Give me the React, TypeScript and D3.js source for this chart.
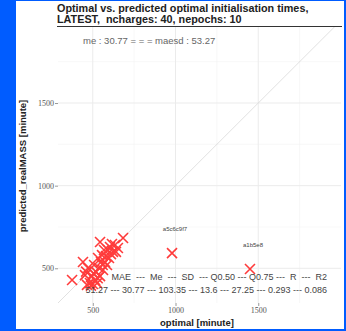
import React, { useEffect, useRef } from "react";
import * as d3 from "d3";

// optimal vs predicted init times (minutes)
const optimal = [375, 441, 453, 465, 471, 483, 489, 495, 501, 508, 514, 520, 526, 532, 538, 544, 544, 550, 556, 562,
  568, 574, 580, 586, 592, 598, 604, 610, 616, 622, 634, 640, 652, 683, 460, 505, 530, 560, 979, 1450];
const predicted = [429, 538, 459, 400, 502, 411, 395, 453, 405, 520, 429, 478, 410, 562, 502, 659, 453, 538, 580, 490,
  611, 538, 574, 520, 611, 562, 629, 586, 647, 599, 641, 599, 623, 683, 480, 470, 440, 520, 592, 496];
const outlierLabels = [
  { x: 979, y: 592, label: "a5c6c9f7" },
  { x: 1450, y: 496, label: "a1b5e8" },
];

const xTicks = [500, 1000, 1500];
const yTicks = [500, 1000, 1500];
const minorTicks = [750, 1250, 1750];

const titleLines = ["Optimal vs. predicted optimal initialisation times,", "LATEST,  ncharges: 40, nepochs: 10"];
const topNote = "me : 30.77 = = = maesd : 53.27";
const statNames = "MAE  ---  Me  ---  SD  --- Q0.50 --- Q0.75 ---  R  ---  R2";
const statValues = "51.27 --- 30.77 --- 103.35 --- 13.6 --- 27.25 --- 0.293 --- 0.086";

const App = () => {
  const ref = useRef<SVGSVGElement>(null);

  useEffect(() => {
    const width = 346;
    const height = 331;
    const left = 58, right = 341, top = 27, bottom = 303;

    const svg = d3.select(ref.current);
    svg.selectAll("*").remove();
    svg.attr("width", width).attr("height", height);

    // blue frame + white page
    svg.append("rect").attr("width", width).attr("height", height).attr("fill", "#005cff");
    svg.append("rect").attr("x", 16).attr("y", 1).attr("width", 328).attr("height", 328).attr("fill", "#fff");

    const x = d3.scaleLinear().domain([290, 2000]).range([left, right]);
    const y = d3.scaleLinear().domain([290, 1960]).range([bottom, top]);

    // grid
    const grid = svg.append("g");
    minorTicks.forEach((t) => {
      grid.append("line").attr("x1", x(t)).attr("x2", x(t)).attr("y1", top).attr("y2", bottom)
        .attr("stroke", "#f3f3f3").attr("stroke-width", 0.6);
      grid.append("line").attr("x1", left).attr("x2", right).attr("y1", y(t)).attr("y2", y(t))
        .attr("stroke", "#f3f3f3").attr("stroke-width", 0.6);
    });
    xTicks.forEach((t) => {
      grid.append("line").attr("x1", x(t)).attr("x2", x(t)).attr("y1", top).attr("y2", bottom)
        .attr("stroke", "#ebebeb").attr("stroke-width", 1);
    });
    yTicks.forEach((t) => {
      grid.append("line").attr("x1", left).attr("x2", right).attr("y1", y(t)).attr("y2", y(t))
        .attr("stroke", "#ebebeb").attr("stroke-width", 1);
    });

    // y = x reference line
    svg.append("clipPath").attr("id", "panel").append("rect")
      .attr("x", left).attr("y", top).attr("width", right - left).attr("height", bottom - top);
    svg.append("line").attr("clip-path", "url(#panel)")
      .attr("x1", x(290)).attr("y1", y(290)).attr("x2", x(2000)).attr("y2", y(2000))
      .attr("stroke", "#d9d9d9").attr("stroke-width", 0.8);

    // axes
    const xAxis = svg.append("g").attr("transform", `translate(0,${bottom})`)
      .call(d3.axisBottom(x).tickValues(xTicks).tickSize(3).tickPadding(1).tickFormat(d3.format("d")));
    const yAxis = svg.append("g").attr("transform", `translate(${left},0)`)
      .call(d3.axisLeft(y).tickValues(yTicks).tickSize(3).tickPadding(1).tickFormat(d3.format("d")));
    [xAxis, yAxis].forEach((a) => {
      a.select(".domain").remove();
      a.selectAll("line").attr("stroke", "#999");
      a.selectAll("text").attr("fill", "#555").style("font-family", "Liberation Serif").style("font-size", "8px");
    });

    // points
    const pts = optimal.map((o, i) => ({ o, p: predicted[i] }));
    const s = 5;
    const marks = svg.append("g").attr("stroke", "#ff1a1a").attr("stroke-width", 1.6).attr("opacity", 0.85);
    pts.forEach((d) => {
      const cx = x(d.o), cy = y(d.p);
      marks.append("path").attr("d", `M${cx - s},${cy - s}L${cx + s},${cy + s}M${cx - s},${cy + s}L${cx + s},${cy - s}`);
    });

    svg.selectAll(".lbl").data(outlierLabels).enter().append("text")
      .attr("class", "lbl")
      .attr("x", (d) => x(d.x) + 3).attr("y", (d) => y(d.y) - 22)
      .attr("text-anchor", "middle")
      .style("font-family", "Liberation Sans").style("font-size", "6px").attr("fill", "#444")
      .text((d) => d.label);

    // stats text
    svg.append("text").attr("x", 83).attr("y", 44)
      .style("font-family", "Liberation Sans").style("font-size", "9.5px").attr("fill", "#666")
      .text(topNote);
    svg.append("text").attr("x", 327).attr("y", 280).attr("text-anchor", "end")
      .style("font-family", "Liberation Sans").style("font-size", "9px").attr("fill", "#444")
      .style("white-space", "pre")
      .text(statNames);
    svg.append("text").attr("x", 327).attr("y", 293).attr("text-anchor", "end")
      .style("font-family", "Liberation Sans").style("font-size", "9px").attr("fill", "#444")
      .style("white-space", "pre")
      .text(statValues);

    // title + rule
    svg.selectAll(".title").data(titleLines).enter().append("text")
      .attr("class", "title")
      .attr("x", 57).attr("y", (d, i) => 12 + i * 10.5)
      .style("font-family", "Liberation Sans").style("font-size", "10.8px").style("font-weight", "bold")
      .style("white-space", "pre").attr("fill", "#222")
      .text((d) => d);
    svg.append("line").attr("x1", 57).attr("x2", 342).attr("y1", 26.5).attr("y2", 26.5)
      .attr("stroke", "#333").attr("stroke-width", 1);

    // axis titles
    svg.append("text").attr("x", 197).attr("y", 326).attr("text-anchor", "middle")
      .style("font-family", "Liberation Sans").style("font-size", "9.5px").style("font-weight", "bold")
      .attr("fill", "#222").text("optimal [minute]");
    svg.append("text").attr("transform", "translate(26,166) rotate(-90)").attr("text-anchor", "middle")
      .style("font-family", "Liberation Sans").style("font-size", "9.5px").style("font-weight", "bold")
      .attr("fill", "#222").text("predicted_realMASS [minute]");
  }, []);

  return <svg ref={ref} style={{ position: "absolute", left: 0, top: 0 }}></svg>;
};

export default App;
